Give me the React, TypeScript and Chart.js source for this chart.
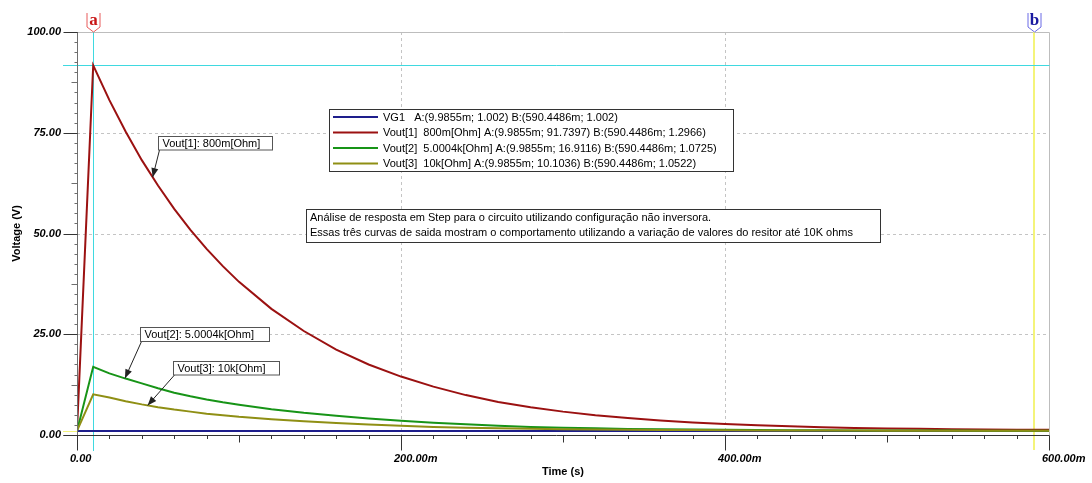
import React, { useEffect, useRef } from "react";
import { Chart, registerables } from "chart.js";

Chart.register(...registerables);

// ---------- data ----------
const timeMs = [0, 10, 20, 30, 40, 50, 60, 70, 80, 90, 100, 120, 140, 160, 180, 200, 220, 240, 260, 280, 300, 320, 340, 360, 380, 400, 420, 440, 460, 480, 500, 520, 540, 560, 580, 590, 600];

const vg1 = [1.002, 1.002, 1.002, 1.002, 1.002, 1.002, 1.002, 1.002, 1.002, 1.002, 1.002, 1.002, 1.002, 1.002, 1.002, 1.002, 1.002, 1.002, 1.002, 1.002, 1.002, 1.002, 1.002, 1.002, 1.002, 1.002, 1.002, 1.002, 1.002, 1.002, 1.002, 1.002, 1.002, 1.002, 1.002, 1.002, 1.002];
const vout1 = [1.0, 91.74, 83.1, 75.3, 68.2, 61.9, 56.1, 50.9, 46.2, 41.9, 38.0, 31.3, 25.8, 21.2, 17.5, 14.5, 12.0, 9.9, 8.2, 6.9, 5.8, 4.9, 4.2, 3.6, 3.1, 2.7, 2.4, 2.15, 1.9, 1.75, 1.62, 1.52, 1.43, 1.37, 1.32, 1.2966, 1.28];
const vout2 = [1.0, 16.91, 15.3, 14.0, 12.8, 11.6, 10.5, 9.6, 8.8, 8.1, 7.5, 6.4, 5.5, 4.8, 4.1, 3.55, 3.05, 2.65, 2.3, 2.0, 1.8, 1.65, 1.5, 1.42, 1.35, 1.28, 1.23, 1.19, 1.16, 1.14, 1.12, 1.1, 1.09, 1.08, 1.075, 1.0725, 1.07];
const vout3 = [1.0, 10.1, 9.3, 8.4, 7.6, 6.9, 6.3, 5.8, 5.3, 4.9, 4.5, 3.9, 3.4, 3.0, 2.6, 2.3, 2.0, 1.82, 1.68, 1.55, 1.45, 1.37, 1.3, 1.25, 1.21, 1.17, 1.14, 1.12, 1.1, 1.09, 1.08, 1.07, 1.06, 1.057, 1.054, 1.0522, 1.05];

const seriesNames = ["VG1", "Vout[1]", "Vout[2]", "Vout[3]"];
const seriesParams = ["", "800m[Ohm]", "5.0004k[Ohm]", "10k[Ohm]"];
const seriesColors = ["#1e1e8c", "#9b1111", "#179417", "#8f8f14"];
const cursorA = 9.9855;
const cursorB = 590.4486;
const cursorALabel = "9.9855m";
const cursorBLabel = "590.4486m";
const cursorAValues = ["1.002", "91.7397", "16.9116", "10.1036"];
const cursorBValues = ["1.002", "1.2966", "1.0725", "1.0522"];

const xMajorTicks = [0, 200, 400, 600];
const yMajorTicks = [0, 25, 50, 75, 100];

const noteLines = [
  "Análise de resposta em Step para o circuito utilizando configuração não inversora.",
  "Essas três curvas de saida mostram o comportamento utilizando a variação de valores do resitor até 10K ohms",
];

// annotation labels: which series, time of the arrow tip, box (x, y, w, h in px)
const curveNotes = [
  { series: 1, t: 46.7, box: [158.5, 136.5, 114, 13.5] },
  { series: 2, t: 29.6, box: [140.5, 327.5, 129, 14] },
  { series: 3, t: 43.6, box: [173.5, 361.5, 106, 13.5] },
];

const allSeries = [vg1, vout1, vout2, vout3];

function valueAt(series: number[], t: number) {
  for (let i = 1; i < timeMs.length; i++) {
    if (t <= timeMs[i]) {
      const f = (t - timeMs[i - 1]) / (timeMs[i] - timeMs[i - 1]);
      return series[i - 1] + f * (series[i] - series[i - 1]);
    }
  }
  return series[series.length - 1];
}

const SANS = '"Liberation Sans", Arial, sans-serif';
const SERIF = '"Liberation Serif", "Times New Roman", serif';

function seg(ctx: CanvasRenderingContext2D, x1: number, y1: number, x2: number, y2: number) {
  ctx.beginPath();
  ctx.moveTo(x1, y1);
  ctx.lineTo(x2, y2);
  ctx.stroke();
}

const overlayPlugin = {
  id: "overlay",
  beforeDatasetsDraw(chart: any) {
    const { ctx, chartArea: ca, scales } = chart;
    const x = scales.x;
    const y = scales.y;
    ctx.save();
    ctx.lineWidth = 1;
    // dashed grid
    ctx.strokeStyle = "#c4c4c4";
    ctx.setLineDash([3, 3]);
    yMajorTicks.forEach((v) => {
      if (v === 0 || v === 100) return;
      const py = Math.round(y.getPixelForValue(v)) + 0.5;
      seg(ctx, ca.left, py, ca.right, py);
    });
    xMajorTicks.forEach((v) => {
      if (v === 0 || v === 600) return;
      const px = Math.round(x.getPixelForValue(v)) + 0.5;
      seg(ctx, px, ca.top, px, ca.bottom);
    });
    ctx.setLineDash([]);
    // top + right border
    ctx.strokeStyle = "#bdbdbd";
    const top = Math.round(y.getPixelForValue(100)) + 0.5;
    const right = Math.round(x.getPixelForValue(600)) + 0.5;
    seg(ctx, ca.left, top, right, top);
    seg(ctx, right, top, right, ca.bottom);

    // cursor lines
    const ax = Math.round(x.getPixelForValue(cursorA)) + 0.5;
    const bx = Math.round(x.getPixelForValue(cursorB));
    const ay = Math.round(y.getPixelForValue(parseFloat(cursorAValues[1]))) + 0.5;
    const by = Math.round(y.getPixelForValue(parseFloat(cursorBValues[3]))) + 0.5;
    ctx.strokeStyle = "#f4f47a";
    ctx.lineWidth = 2;
    seg(ctx, bx, ca.top, bx, ca.bottom + 15);
    ctx.lineWidth = 1;
    seg(ctx, ca.left - 14, by, right, by);
    ctx.strokeStyle = "#3fd9e0";
    seg(ctx, ax, ca.top, ax, ca.bottom + 16);
    seg(ctx, ca.left - 14, ay, right, ay);
    ctx.restore();
  },
  afterDatasetsDraw(chart: any) {
    const { ctx, chartArea: ca, scales } = chart;
    const x = scales.x;
    const y = scales.y;
    ctx.save();
    ctx.lineWidth = 1;
    const axX = Math.round(ca.left) + 0.5;
    const axY = Math.round(ca.bottom) + 0.5;

    // y axis line + ticks
    ctx.strokeStyle = "#6e6e6e";
    seg(ctx, axX, ca.top, axX, ca.bottom + 14);
    for (let i = 0; i < yMajorTicks.length - 1; i++) {
      const a = yMajorTicks[i];
      const b = yMajorTicks[i + 1];
      for (let k = 1; k < 10; k++) {
        const v = a + ((b - a) * k) / 10;
        const py = Math.round(y.getPixelForValue(v)) + 0.5;
        const len = k === 5 ? 6 : 3;
        seg(ctx, axX - len, py, axX, py);
      }
    }
    ctx.strokeStyle = "#333333";
    yMajorTicks.forEach((v) => {
      const py = Math.round(y.getPixelForValue(v)) + 0.5;
      seg(ctx, axX - 14, py, axX, py);
    });
    // x axis line + ticks
    seg(ctx, axX - 14, axY, Math.round(ca.right) + 0.5, axY);
    for (let i = 0; i < xMajorTicks.length - 1; i++) {
      const a = xMajorTicks[i];
      const b = xMajorTicks[i + 1];
      for (let k = 1; k < 10; k++) {
        const v = a + ((b - a) * k) / 10;
        const px = Math.round(x.getPixelForValue(v)) + 0.5;
        const len = k === 5 ? 7 : 3.5;
        seg(ctx, px, axY, px, axY + len);
      }
    }
    xMajorTicks.forEach((v) => {
      const px = Math.round(x.getPixelForValue(v)) + 0.5;
      seg(ctx, px, axY, px, axY + 15);
    });

    // cursor markers
    const drawMarker = (t: number, letter: string, outline: string, color: string) => {
      const px = Math.round(x.getPixelForValue(t)) + 0.5;
      ctx.strokeStyle = outline;
      ctx.fillStyle = "#ffffff";
      ctx.beginPath();
      ctx.moveTo(px - 6.5, 13);
      ctx.lineTo(px - 6.5, 27);
      ctx.lineTo(px, 32);
      ctx.lineTo(px + 6.5, 27);
      ctx.lineTo(px + 6.5, 13);
      ctx.fill();
      ctx.stroke();
      ctx.fillStyle = color;
      ctx.font = "bold 17px " + SERIF;
      ctx.textAlign = "center";
      ctx.textBaseline = "middle";
      ctx.fillText(letter, px, 21);
    };
    drawMarker(cursorA, "a", "#e85a5a", "#c81414");
    drawMarker(cursorB, "b", "#6a6ae6", "#1a1aa0");

    // curve labels with arrows
    ctx.font = "11px " + SANS;
    curveNotes.forEach((n) => {
      const [bx, by, bw, bh] = n.box;
      const tipX = x.getPixelForValue(n.t);
      const tipY = y.getPixelForValue(valueAt(allSeries[n.series], n.t));
      const sx = bx + 1;
      const sy = by + bh;
      ctx.strokeStyle = "#222";
      ctx.fillStyle = "#222";
      seg(ctx, sx, sy, tipX, tipY);
      const ang = Math.atan2(tipY - sy, tipX - sx);
      const L = 9;
      const W = 3.5;
      ctx.beginPath();
      ctx.moveTo(tipX, tipY);
      ctx.lineTo(tipX - L * Math.cos(ang) + W * Math.sin(ang), tipY - L * Math.sin(ang) - W * Math.cos(ang));
      ctx.lineTo(tipX - L * Math.cos(ang) - W * Math.sin(ang), tipY - L * Math.sin(ang) + W * Math.cos(ang));
      ctx.closePath();
      ctx.fill();
      ctx.fillStyle = "#ffffff";
      ctx.fillRect(bx, by, bw, bh);
      ctx.strokeStyle = "#555555";
      ctx.strokeRect(bx, by, bw, bh);
      ctx.fillStyle = "#000";
      ctx.textAlign = "left";
      ctx.textBaseline = "middle";
      ctx.fillText(seriesNames[n.series] + ": " + seriesParams[n.series], bx + 4, by + bh / 2 + 0.5);
    });

    // legend box
    const lx = 329.5, ly = 109.5, lw = 404, lh = 62;
    ctx.fillStyle = "#ffffff";
    ctx.fillRect(lx, ly, lw, lh);
    ctx.strokeStyle = "#333";
    ctx.strokeRect(lx, ly, lw, lh);
    seriesNames.forEach((name, i) => {
      const ry = 117 + i * 15.5;
      ctx.strokeStyle = seriesColors[i];
      ctx.lineWidth = 2;
      seg(ctx, 333, ry, 378, ry);
      ctx.lineWidth = 1;
      ctx.fillStyle = "#000";
      ctx.textAlign = "left";
      ctx.textBaseline = "middle";
      const mid = seriesParams[i] ? "  " + seriesParams[i] + " " : "   ";
      const label = name + mid + "A:(" + cursorALabel + "; " + cursorAValues[i] + ") B:(" + cursorBLabel + "; " + cursorBValues[i] + ")";
      ctx.fillText(label, 383, ry + 0.5);
    });

    // note box
    const nx = 306.5, ny = 209.5, nw = 574, nh = 33;
    ctx.fillStyle = "#ffffff";
    ctx.fillRect(nx, ny, nw, nh);
    ctx.strokeStyle = "#333";
    ctx.strokeRect(nx, ny, nw, nh);
    ctx.fillStyle = "#000";
    noteLines.forEach((line, i) => {
      ctx.fillText(line, 310, 218 + i * 15);
    });
    ctx.restore();
  },
};

export default function App() {
  const canvasRef = useRef<HTMLCanvasElement | null>(null);

  useEffect(() => {
    if (!canvasRef.current) return;
    const datasets = allSeries.map((s, i) => ({
      label: seriesNames[i],
      data: timeMs.map((t, k) => ({ x: t, y: s[k] })),
      borderColor: seriesColors[i],
      backgroundColor: seriesColors[i],
      borderWidth: 2,
      pointRadius: 0,
      tension: 0,
      fill: false,
      order: 3 - i,
    }));
    const chart = new Chart(canvasRef.current, {
      type: "line",
      data: { datasets },
      plugins: [overlayPlugin],
      options: {
        animation: false,
        responsive: false,
        maintainAspectRatio: false,
        devicePixelRatio: 1,
        layout: { padding: { left: 0, top: 32, right: 43, bottom: 0 } },
        plugins: { legend: { display: false }, tooltip: { enabled: false } },
        scales: {
          x: {
            type: "linear",
            min: 0,
            max: 600,
            grid: { display: false, drawTicks: false },
            border: { display: false },
            afterBuildTicks: (s: any) => {
              s.ticks = xMajorTicks.map((v) => ({ value: v }));
            },
            afterFit: (s: any) => {
              s.height = 48;
              s.paddingLeft = 0;
              s.paddingRight = 0;
            },
            ticks: {
              autoSkip: false,
              maxRotation: 0,
              align: "start",
              labelOffset: -7,
              padding: 17,
              color: "#000",
              font: { family: SANS, size: 11, style: "italic", weight: "bold" },
              callback: (v: any) => (Number(v) === 0 ? "0.00" : Number(v).toFixed(2) + "m"),
            },
            title: {
              display: true,
              text: "Time (s)",
              color: "#000",
              font: { family: SANS, size: 11, weight: "bold" },
              padding: { top: 0, bottom: 4 },
            },
          },
          y: {
            type: "linear",
            min: 0,
            max: 100,
            grid: { display: false, drawTicks: false },
            border: { display: false },
            afterBuildTicks: (s: any) => {
              s.ticks = yMajorTicks.map((v) => ({ value: v }));
            },
            afterFit: (s: any) => {
              s.width = 77;
              s.paddingTop = 0;
              s.paddingBottom = 0;
            },
            ticks: {
              autoSkip: false,
              padding: 16,
              color: "#000",
              font: { family: SANS, size: 11, style: "italic", weight: "bold" },
              callback: (v: any) => Number(v).toFixed(2),
            },
            title: {
              display: true,
              text: "Voltage (V)",
              color: "#000",
              font: { family: SANS, size: 11, weight: "bold" },
              padding: { top: 10, bottom: 0 },
            },
          },
        },
      },
    });
    return () => chart.destroy();
  }, []);

  return (
    <div style={{ position: "absolute", left: 0, top: 0, width: 1092, height: 483, background: "#fff" }}>
      <canvas ref={canvasRef} width={1092} height={483} style={{ display: "block" }} />
    </div>
  );
}
